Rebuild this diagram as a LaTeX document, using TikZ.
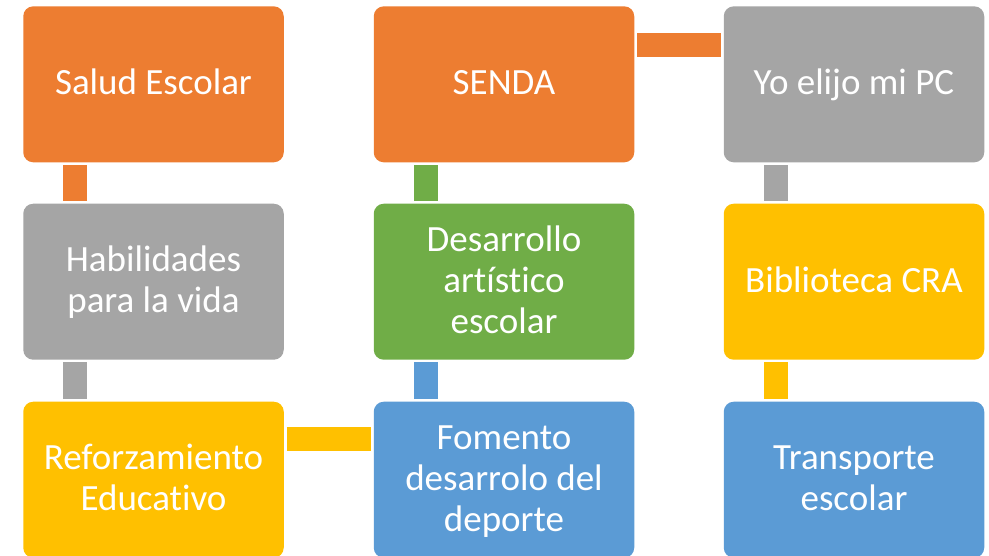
\documentclass[tikz,border=0pt]{standalone}
\usepackage{fontspec}
\setmainfont{Carlito}[Ligatures={NoCommon}]
\usetikzlibrary{calc}
\definecolor{cOrange}{HTML}{ED7D31}
\definecolor{cGray}{HTML}{A5A5A5}
\definecolor{cYellow}{HTML}{FFC000}
\definecolor{cBlue}{HTML}{5B9BD5}
\definecolor{cGreen}{HTML}{70AD47}
\newcommand\lst{\rule[-9pt]{0pt}{39pt}}
\tikzset{
  card/.style={rectangle, rounded corners=10pt, minimum width=260.5pt, minimum height=156pt,
    inner sep=0pt, fill=#1, text=white, align=center, font=\fontsize{37}{41}\selectfont},
  link/.style={draw=#1, line width=24pt}
}
\begin{document}
\begin{tikzpicture}[x=1pt,y=-1pt]
\useasboundingbox (0,0) rectangle (989,555);
% boxes
\node[card=cOrange] (salud) at (153.5,84.3) {\lst Salud Escolar};
\node[card=cGray] (habil) at (153.5,281.7) {\lst Habilidades\\\lst para la vida};
\node[card=cYellow] (refor) at (153.5,479.7) {\lst Reforzamiento\\\lst Educativo};
\node[card=cBlue] (fomento) at (504,479.7) {\lst Fomento\\\lst desarrolo del\\\lst deporte};
\node[card=cGreen] (artis) at (504,281.7) {\lst Desarrollo\\\lst artístico\\\lst escolar};
\node[card=cOrange] (senda) at (504,84.3) {\lst SENDA};
\node[card=cGray] (pc) at (854,84.3) {\lst Yo elijo mi PC};
\node[card=cYellow] (cra) at (854,281.7) {\lst Biblioteca CRA};
\node[card=cBlue] (transp) at (854,479.7) {\lst Transporte\\\lst escolar};
% connectors
\draw[link=cOrange] ($(salud.south west)+(51.5,2.5)$) -- ($(habil.north west)+(51.5,-2.5)$);
\draw[link=cGray] ($(habil.south west)+(51.5,2.5)$) -- ($(refor.north west)+(51.5,-2.5)$);
\draw[link=cYellow] ($(refor.north east)+(2.8,37.7)$) -- ($(fomento.north west)+(-2.8,37.7)$);
\draw[link=cBlue] ($(fomento.north west)+(52,-2.5)$) -- ($(artis.south west)+(52,2.5)$);
\draw[link=cGreen] ($(artis.north west)+(52,-2.5)$) -- ($(senda.south west)+(52,2.5)$);
\draw[link=cOrange] ($(senda.north east)+(2.8,38.4)$) -- ($(pc.north west)+(-2.8,38.4)$);
\draw[link=cGray] ($(pc.south west)+(52,2.5)$) -- ($(cra.north west)+(52,-2.5)$);
\draw[link=cYellow] ($(cra.south west)+(52,2.5)$) -- ($(transp.north west)+(52,-2.5)$);
\end{tikzpicture}
\end{document}
